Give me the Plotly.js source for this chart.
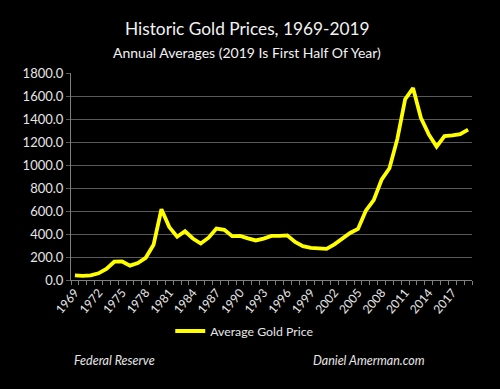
<!DOCTYPE html>
<html><head><meta charset="utf-8">
<script src="https://cdn.plot.ly/plotly-3.0.1.min.js"></script>
<style>html,body{margin:0;padding:0;background:#000;}#chart{width:500px;height:389px;}</style>
</head><body><div id="chart"></div>
<script>
const years = [1969,1970,1971,1972,1973,1974,1975,1976,1977,1978,1979,1980,1981,1982,1983,1984,1985,1986,1987,1988,1989,1990,1991,1992,1993,1994,1995,1996,1997,1998,1999,2000,2001,2002,2003,2004,2005,2006,2007,2008,2009,2010,2011,2012,2013,2014,2015,2016,2017,2018,2019];
const goldPrice = [41,36,41,58,97,159,161,125,148,193,306,615,460,376,424,361,317,368,447,437,381,383,362,344,360,384,384,388,331,294,279,279,271,310,363,409,444,603,695,872,972,1225,1572,1669,1411,1266,1160,1251,1257,1268,1307];
const tickYears = [1969,1972,1975,1978,1981,1984,1987,1990,1993,1996,1999,2002,2005,2008,2011,2014,2017];
const yTicks = [0,200,400,600,800,1000,1200,1400,1600,1800];
const seriesName = 'Average Gold Price';
const titleText = 'Historic Gold Prices, 1969-2019';
const subtitleText = 'Annual Averages (2019 Is First Half Of Year)';
const sourceLeft = 'Federal Reserve';
const sourceRight = 'Daniel Amerman.com';

const FONT = 'Lato, "Open Sans", sans-serif';
const PH = 207, PB = 280; // plot height / bottom in px (for placing texts)
const py = (pix) => (PB - pix) / PH;
const px = (pix) => (pix - 71) / 400;

const trace = {
  x: years, y: goldPrice, type: 'scatter', mode: 'lines', name: seriesName,
  line: {color: '#ffff00', width: 3.8}
};
const layout = {
  width: 500, height: 389,
  paper_bgcolor: '#000', plot_bgcolor: '#000',
  margin: {l: 71, r: 28, t: 73, b: 109},
  font: {family: FONT, color: '#e6e6e6', size: 13},
  xaxis: {
    range: [1968.5, 2019.5], tickmode: 'array', tickvals: tickYears, ticktext: tickYears.map(String),
    tickangle: -50, ticks: '', showgrid: false, zeroline: false,
    showline: true, linecolor: '#7f7f7f', linewidth: 1,
    tickfont: {family: FONT, size: 12, color: '#e6e6e6'},
    minor: {tickmode: 'linear', tick0: 1968.5, dtick: 1, ticks: 'outside', ticklen: 4, tickcolor: '#7f7f7f', showgrid: false}
  },
  yaxis: {
    range: [0, 1800], tickmode: 'array', tickvals: yTicks, tickformat: '.1f',
    showgrid: true, gridcolor: '#595959', gridwidth: 1, zeroline: false,
    showline: true, linecolor: '#7f7f7f', linewidth: 1,
    ticks: 'outside', ticklen: 4, tickcolor: '#595959',
    tickfont: {family: FONT, size: 13, color: '#e6e6e6'}
  },
  showlegend: true,
  legend: {orientation: 'h', x: px(170), xanchor: 'left', y: py(331), yanchor: 'middle',
    bgcolor: 'rgba(0,0,0,0)', font: {family: FONT, size: 12.3, color: '#e6e6e6'}},
  annotations: [
    {text: titleText, xref: 'paper', yref: 'paper', x: px(247.5), y: py(29), xanchor: 'center', yanchor: 'middle', showarrow: false, font: {family: FONT, size: 17.3, color: '#f2f2f2'}},
    {text: subtitleText, xref: 'paper', yref: 'paper', x: px(247), y: py(52), xanchor: 'center', yanchor: 'middle', showarrow: false, font: {family: FONT, size: 14, color: '#f2f2f2'}},
    {text: '<i>' + sourceLeft + '</i>', xref: 'paper', yref: 'paper', x: px(72), y: py(360), xanchor: 'left', yanchor: 'middle', showarrow: false, font: {family: FONT, size: 12.5, color: '#e6e6e6'}},
    {text: '<i>' + sourceRight + '</i>', xref: 'paper', yref: 'paper', x: px(310), y: py(360), xanchor: 'left', yanchor: 'middle', showarrow: false, font: {family: FONT, size: 12.5, color: '#e6e6e6'}}
  ]
};
Plotly.newPlot('chart', [trace], layout, {displayModeBar: false, staticPlot: true});
</script></body></html>
